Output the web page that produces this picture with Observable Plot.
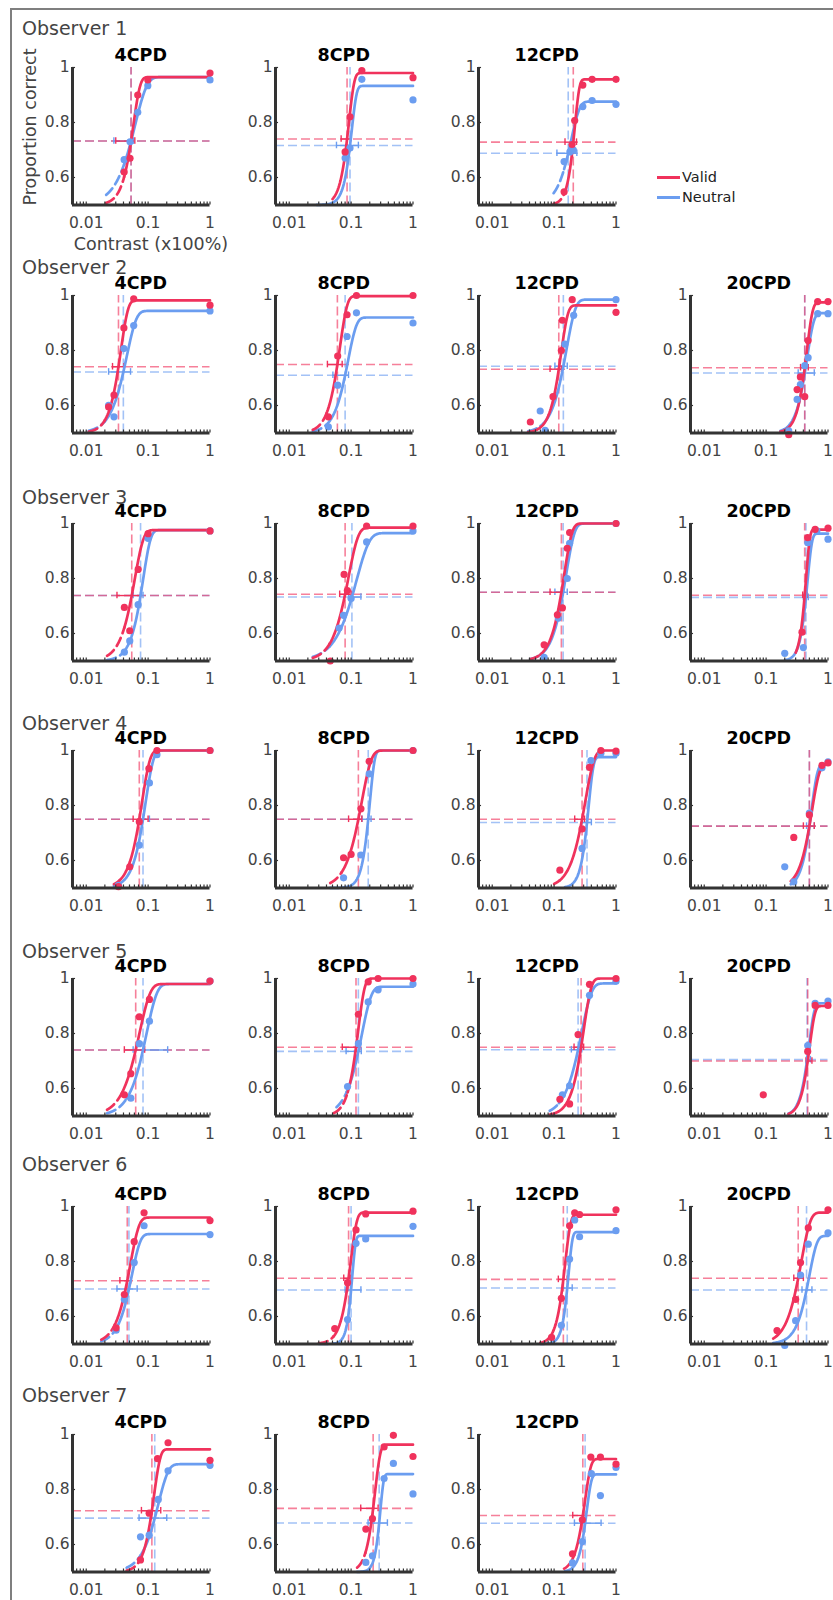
<!DOCTYPE html>
<html><head><meta charset="utf-8">
<script src="https://cdn.jsdelivr.net/npm/d3@7"></script>
<script src="https://cdn.jsdelivr.net/npm/@observablehq/plot@0.6"></script>
<style>
body{margin:0;background:#fff;overflow:hidden;font-family:"DejaVu Sans",Verdana,sans-serif;}
#fig{position:relative;width:833px;height:1600px;overflow:hidden;background:#fff;}
.frame{position:absolute;left:10px;top:8px;width:900px;height:1700px;border-left:2px solid #7f7f7f;border-top:2px solid #7f7f7f;}
.obs{position:absolute;font-size:19px;color:#444;white-space:nowrap;line-height:22px;}
.ttl{position:absolute;font-size:17.5px;font-weight:bold;color:#000;text-align:center;line-height:22px;}
.lab{position:absolute;font-size:17.5px;color:#444;text-align:center;line-height:24px;white-space:nowrap;}
.leg{position:absolute;font-size:14.5px;color:#222;line-height:18px;}
.legline{position:absolute;height:3px;width:23px;}
</style></head><body><div id="fig"><div class="frame"></div></div>
<script>
// ---------------- data ----------------
const panelObserver = [1,1,1, 2,2,2,2, 3,3,3,3, 4,4,4,4, 5,5,5,5, 6,6,6,6, 7,7,7];
const panelSF = ["4CPD","8CPD","12CPD", "4CPD","8CPD","12CPD","20CPD", "4CPD","8CPD","12CPD","20CPD",
  "4CPD","8CPD","12CPD","20CPD", "4CPD","8CPD","12CPD","20CPD", "4CPD","8CPD","12CPD","20CPD", "4CPD","8CPD","12CPD"];
const xTicks = [0.01, 0.1, 1];
const yTicks = [0.6, 0.8, 1];
const seriesNames = ["Valid", "Neutral"];

// [contrast, proportion correct]
const validPts = [
  [[0.041,0.62],[0.051,0.67],[0.068,0.90],[0.099,0.955],[1,0.98]],
  [[0.08,0.693],[0.096,0.821],[0.149,0.989],[1,0.963]],
  [[0.145,0.548],[0.195,0.72],[0.215,0.807],[0.291,0.936],[0.411,0.957],[1,0.957]],
  [[0.023,0.595],[0.0281,0.638],[0.0406,0.882],[0.0585,0.988],[1,0.965]],
  [[0.0429,0.559],[0.0607,0.78],[0.086,0.93],[0.122,1.0],[1,1.0]],
  [[0.0413,0.54],[0.096,0.632],[0.131,0.80],[0.136,0.91],[0.196,0.985],[1,0.939]],
  [[0.232,0.494],[0.317,0.658],[0.358,0.704],[0.421,0.632],[0.477,0.836],[0.681,0.978],[1,0.978]],
  [[0.0413,0.695],[0.0505,0.61],[0.069,0.833],[0.0999,0.963],[1,0.973]],
  [[0.046,0.5],[0.077,0.815],[0.087,0.756],[0.178,0.991],[1,0.991]],
  [[0.069,0.559],[0.113,0.668],[0.136,0.693],[0.163,0.91],[0.178,0.967],[1,1.0]],
  [[0.38,0.605],[0.47,0.949],[0.62,0.979],[1,0.983]],
  [[0.0332,0.505],[0.0505,0.577],[0.072,0.741],[0.103,0.934],[0.139,1.0],[1,1.0]],
  [[0.0755,0.61],[0.0999,0.622],[0.144,0.788],[0.196,0.961],[1,1.0]],
  [[0.124,0.565],[0.283,0.715],[0.373,0.939],[0.57,1.0],[1,0.998]],
  [[0.28,0.684],[0.5,0.766],[0.8,0.946],[1,0.955]],
  [[0.0413,0.577],[0.0525,0.654],[0.072,0.861],[0.105,0.924],[1,0.991]],
  [[0.131,0.87],[0.189,0.988],[0.273,1.0],[1,1.0]],
  [[0.124,0.561],[0.178,0.544],[0.244,0.796],[0.373,0.979],[1,1.0]],
  [[0.09,0.577],[0.47,0.735],[0.62,0.902],[1,0.902]],
  [[0.0304,0.559],[0.0413,0.68],[0.0596,0.872],[0.086,0.977],[1,0.949]],
  [[0.0544,0.556],[0.0876,0.723],[0.12,0.915],[0.172,0.973],[1,0.983]],
  [[0.091,0.524],[0.131,0.666],[0.178,0.93],[0.215,0.977],[0.258,0.971],[1,0.988]],
  [[0.15,0.549],[0.3,0.662],[0.36,0.796],[0.48,0.922],[1,0.988]],
  [[0.0753,0.544],[0.104,0.714],[0.142,0.912],[0.21,0.97],[1,0.906]],
  [[0.173,0.656],[0.221,0.694],[0.341,0.955],[0.482,0.997],[1,0.92]],
  [[0.198,0.566],[0.286,0.69],[0.392,0.918],[0.56,0.918],[1,0.892]]
];
const neutralPts = [
  [[0.041,0.665],[0.051,0.73],[0.068,0.837],[0.099,0.934],[1,0.955]],
  [[0.08,0.671],[0.096,0.707],[0.149,0.957],[1,0.882]],
  [[0.145,0.658],[0.18,0.693],[0.205,0.70],[0.291,0.858],[0.411,0.88],[1,0.866]],
  [[0.023,0.601],[0.0281,0.559],[0.0406,0.807],[0.0585,0.891],[1,0.944]],
  [[0.0429,0.522],[0.0607,0.674],[0.086,0.851],[0.122,0.937],[1,0.9]],
  [[0.0596,0.58],[0.0716,0.51],[0.149,0.823],[0.207,0.928],[1,0.985]],
  [[0.232,0.508],[0.317,0.622],[0.358,0.676],[0.421,0.745],[0.477,0.774],[0.681,0.934],[1,0.934]],
  [[0.0413,0.532],[0.0505,0.573],[0.069,0.705],[0.0999,0.946],[1,0.973]],
  [[0.064,0.62],[0.0755,0.666],[0.1,0.727],[0.178,0.933],[1,0.973]],
  [[0.069,0.513],[0.117,0.656],[0.163,0.8],[0.178,0.928],[1,1.0]],
  [[0.2,0.528],[0.4,0.549],[0.47,0.93],[0.66,0.973],[1,0.943]],
  [[0.0332,0.51],[0.072,0.656],[0.105,0.882],[0.139,0.985],[1,1.0]],
  [[0.0755,0.537],[0.144,0.62],[0.196,0.915],[1,1.0]],
  [[0.283,0.644],[0.394,0.963],[0.57,0.99],[1,0.99]],
  [[0.2,0.577],[0.28,0.522],[0.5,0.772],[0.8,0.937],[1,0.959]],
  [[0.0525,0.565],[0.072,0.763],[0.105,0.845],[1,0.991]],
  [[0.0876,0.607],[0.131,0.763],[0.189,0.915],[0.273,0.959],[1,0.98]],
  [[0.136,0.577],[0.178,0.61],[0.373,0.939],[1,0.99]],
  [[0.47,0.756],[0.62,0.91],[1,0.918]],
  [[0.0304,0.55],[0.0413,0.662],[0.0596,0.796],[0.086,0.93],[1,0.898]],
  [[0.0876,0.589],[0.12,0.866],[0.172,0.882],[1,0.928]],
  [[0.131,0.568],[0.178,0.809],[0.215,0.951],[0.258,0.89],[1,0.912]],
  [[0.2,0.495],[0.3,0.585],[0.36,0.751],[0.48,0.863],[1,0.904]],
  [[0.0753,0.628],[0.104,0.634],[0.146,0.764],[0.21,0.868],[1,0.888]],
  [[0.173,0.535],[0.221,0.559],[0.341,0.84],[0.482,0.895],[1,0.784]],
  [[0.198,0.533],[0.286,0.611],[0.40,0.858],[0.56,0.778],[1,0.88]]
];
// fitted psychometric functions: [threshold, slope, upper asymptote, curve from, solid from, CI low, CI high]
const validFit = [
  [0.053,4,0.965,0.021,0.041,0.03,0.061],
  [0.086,5,0.98,0.05,0.05,0.069,0.098],
  [0.204,5.9,0.957,0.098,0.145,0.15,0.23],
  [0.0332,3.8,0.982,0.011,0.02,0.0266,0.0406],
  [0.06,3.7,0.998,0.024,0.04,0.0414,0.0717],
  [0.119,4,0.964,0.038,0.041,0.086,0.131],
  [0.421,4.6,0.975,0.17,0.17,0.36,0.48],
  [0.0544,3.1,0.976,0.0217,0.0413,0.0314,0.0755],
  [0.08,2.8,0.985,0.024,0.045,0.0653,0.0999],
  [0.131,3.4,1.0,0.041,0.06,0.086,0.136],
  [0.42,7,0.978,0.3,0.3,0.39,0.46],
  [0.072,3.4,1.0,0.028,0.034,0.0573,0.0999],
  [0.131,2.8,1.0,0.046,0.07,0.091,0.149],
  [0.283,3,1.0,0.1,0.124,0.215,0.31],
  [0.5,3.6,0.95,0.25,0.25,0.4,0.6],
  [0.063,2.5,0.98,0.0217,0.038,0.0413,0.088],
  [0.12,4.2,1.0,0.052,0.088,0.072,0.138],
  [0.273,3.6,1.0,0.085,0.12,0.21,0.3],
  [0.47,5,0.9,0.23,0.23,0.44,0.55],
  [0.046,3.1,0.96,0.0175,0.029,0.035,0.0525],
  [0.091,4.4,0.978,0.03,0.052,0.076,0.099],
  [0.141,5,0.97,0.06,0.06,0.117,0.163],
  [0.33,3,0.978,0.13,0.15,0.28,0.4],
  [0.115,4.3,0.946,0.045,0.0753,0.078,0.16],
  [0.227,5,0.963,0.125,0.17,0.143,0.273],
  [0.291,4.5,0.911,0.145,0.145,0.2,0.3]
];
const neutralFit = [
  [0.053,2.3,0.965,0.021,0.041,0.028,0.058],
  [0.096,5.5,0.933,0.028,0.04,0.058,0.131],
  [0.169,3.2,0.876,0.098,0.145,0.111,0.233],
  [0.0398,2.8,0.944,0.011,0.02,0.023,0.052],
  [0.08,3.2,0.92,0.024,0.04,0.0508,0.0908],
  [0.141,3,0.985,0.038,0.06,0.103,0.163],
  [0.421,4,0.936,0.17,0.17,0.33,0.6],
  [0.0755,3.6,0.976,0.0217,0.0413,0.0573,0.0827],
  [0.103,2.1,0.965,0.024,0.045,0.091,0.144],
  [0.14,3.2,1.0,0.041,0.06,0.103,0.163],
  [0.44,6,0.963,0.2,0.2,0.4,0.48],
  [0.0827,3.5,1.0,0.028,0.034,0.075,0.105],
  [0.189,5.6,1.0,0.046,0.07,0.15,0.21],
  [0.34,5.6,0.976,0.15,0.15,0.28,0.4],
  [0.5,4.5,0.95,0.25,0.25,0.45,0.6],
  [0.0827,2.6,0.98,0.0217,0.045,0.0573,0.207],
  [0.131,2.8,0.97,0.058,0.085,0.083,0.146],
  [0.244,2.7,0.982,0.085,0.12,0.19,0.28],
  [0.46,5,0.91,0.23,0.23,0.45,0.52],
  [0.049,3.2,0.9,0.0175,0.029,0.0314,0.0665],
  [0.0999,8,0.893,0.03,0.052,0.08,0.144],
  [0.163,7,0.907,0.06,0.06,0.136,0.196],
  [0.45,3.5,0.893,0.13,0.15,0.38,0.55],
  [0.128,2.7,0.892,0.045,0.0753,0.0714,0.2],
  [0.284,8,0.856,0.125,0.125,0.188,0.386],
  [0.317,5.8,0.855,0.15,0.15,0.213,0.574]
];

// ---------------- layout ----------------
const RED = "#f0325c", BLUE = "#6b9df0";
const XDOMAIN = [0.006, 1], YDOMAIN = [0.5, 1];
const COLX = [72, 275, 478, 690];
const ROW0 = 67, ROWSTEP = 227.75;
const OBS_LABEL_OFFSET = [39, 28, 26, 27, 27, 42, 39];
const PW = 137.5, PH = 137.5;
const ML = 40, MR = 12, MT = 6, MB = 34;
const sfCol = {"4CPD":0, "8CPD":1, "12CPD":2, "20CPD":3};
const minorTicks = [];
for (const e of [0.001, 0.01, 0.1]) for (let k = 1; k <= 9; k++) { const v = +(k*e).toPrecision(3); if (v >= XDOMAIN[0] && v <= 1) minorTicks.push(v); }
minorTicks.push(1);

function seriesMarks(pts, fit, color) {
  const [t, b, u, x0, xs, lo, hi] = fit;
  const level = 0.5 + (u - 0.5) / 2;
  const f = x => 0.5 + (u - 0.5) * (1 - Math.exp(-Math.LN2 * Math.pow(x / t, b)));
  const sample = (a, z) => {
    const n = 120, la = Math.log10(a), lz = Math.log10(z);
    return d3.range(n + 1).map(k => { const x = Math.pow(10, la + (lz - la) * k / n); return [x, f(x)]; });
  };
  const dashed = xs > x0 ? sample(x0, xs) : [];
  const solid = sample(Math.max(x0, xs), 1);
  return {
    refs: [
      Plot.ruleY([level], {stroke: color, strokeOpacity: 0.62, strokeWidth: 1.6, strokeDasharray: "9,4"}),
      Plot.ruleX([t], {y1: 0.5, y2: 1, stroke: color, strokeOpacity: 0.62, strokeWidth: 1.6, strokeDasharray: "9,4"})
    ],
    err: [
      Plot.ruleY([level], {x1: lo, x2: hi, stroke: color, strokeWidth: 1.4}),
      Plot.ruleX([lo, hi], {y1: level - 0.012, y2: level + 0.012, stroke: color, strokeWidth: 1.4})
    ],
    curves: [
      Plot.line(dashed, {x: d => d[0], y: d => d[1], stroke: color, strokeWidth: 2.7, strokeDasharray: "9,5"}),
      Plot.line(solid, {x: d => d[0], y: d => d[1], stroke: color, strokeWidth: 2.7})
    ],
    dots: Plot.dot(pts, {x: d => d[0], y: d => d[1], r: 3.6, fill: color})
  };
}

function makePanel(i) {
  const v = seriesMarks(validPts[i], validFit[i], RED);
  const n = seriesMarks(neutralPts[i], neutralFit[i], BLUE);
  return Plot.plot({
    width: ML + PW + MR, height: MT + PH + MB,
    marginLeft: ML, marginRight: MR, marginTop: MT, marginBottom: MB,
    x: {type: "log", domain: XDOMAIN, ticks: xTicks, tickFormat: d => String(d), tickSize: 0, tickPadding: 12, label: null},
    y: {domain: YDOMAIN, ticks: yTicks, tickFormat: d => String(d), tickSize: 0, tickPadding: 3, label: null},
    style: {background: "transparent", color: "#444", fontFamily: "DejaVu Sans, Verdana, sans-serif", fontSize: "15.5px", overflow: "visible"},
    marks: [
      ...n.refs, ...v.refs,
      ...n.err, ...v.err,
      ...n.curves, ...v.curves,
      n.dots, v.dots,
      Plot.ruleX(minorTicks, {x: d => d, y1: 0.5, y2: 0.511, stroke: "#333", strokeWidth: 1.2}),
      Plot.ruleY(yTicks, {y: d => d, x1: XDOMAIN[0], x2: XDOMAIN[0] * 1.12, stroke: "#333", strokeWidth: 1.2}),
      Plot.ruleY([YDOMAIN[0]], {stroke: "#333", strokeWidth: 3}),
      Plot.ruleX([XDOMAIN[0]], {stroke: "#333", strokeWidth: 3})
    ]
  });
}

const fig = document.getElementById("fig");
function addDiv(cls, text, css) {
  const d = document.createElement("div");
  d.className = cls; d.textContent = text;
  Object.assign(d.style, css);
  fig.appendChild(d);
  return d;
}

panelObserver.forEach((obs, i) => {
  const col = sfCol[panelSF[i]], row = obs - 1;
  const left = COLX[col], top = ROW0 + row * ROWSTEP;
  const svg = makePanel(i);
  svg.style.position = "absolute";
  svg.style.left = (left - ML) + "px";
  svg.style.top = (top - MT) + "px";
  fig.appendChild(svg);
  addDiv("ttl", panelSF[i], {left: left + "px", top: (top - 23) + "px", width: PW + "px"});
});

[...new Set(panelObserver)].forEach(obs => {
  const top = ROW0 + (obs - 1) * ROWSTEP;
  addDiv("obs", "Observer " + obs, {left: "22px", top: (top - OBS_LABEL_OFFSET[obs - 1] - 11) + "px"});
});

// axis titles (first panel only)
addDiv("lab", "Proportion correct", {left: (30 - 100) + "px", top: (127 - 12) + "px", width: "200px", transform: "rotate(-90deg)"});
addDiv("lab", "Contrast (x100%)", {left: (151 - 100) + "px", top: (244 - 12) + "px", width: "200px"});

// legend
[[seriesNames[0], RED, 177], [seriesNames[1], BLUE, 197]].forEach(([name, color, y]) => {
  addDiv("legline", "", {left: "657px", top: (y - 1.5) + "px", background: color});
  addDiv("leg", name, {left: "682px", top: (y - 9) + "px"});
});
</script></body></html>
